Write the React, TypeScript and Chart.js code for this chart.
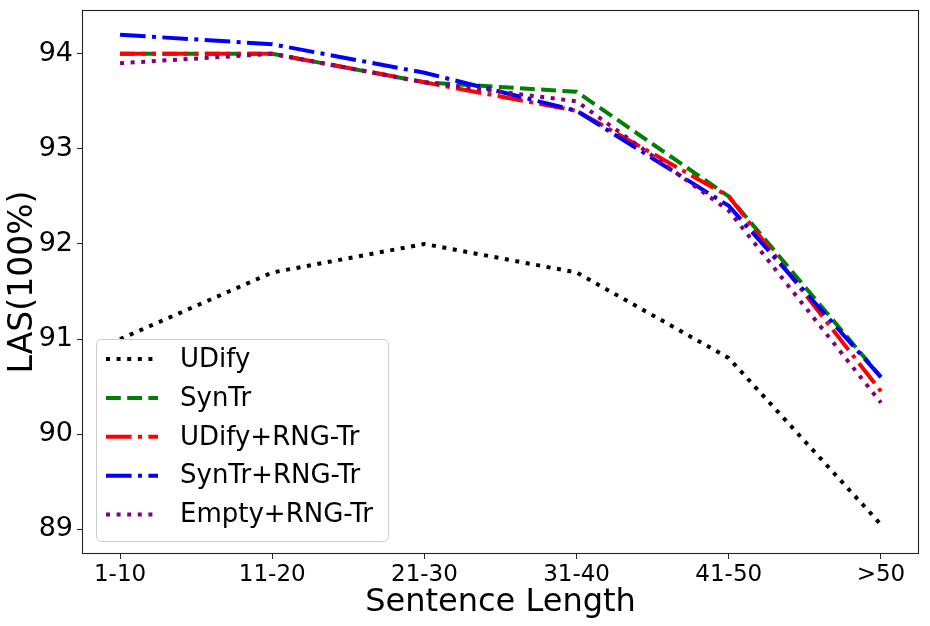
import { useEffect, useRef } from "react"
import { Chart, registerables } from "chart.js"

Chart.register(...registerables)

const categories = ["1-10", "11-20", "21-30", "31-40", "41-50", ">50"]
const yTicks = [89, 90, 91, 92, 93, 94]

const udify = [91.0, 91.7, 92.0, 91.7, 90.8, 89.05]
const syntr = [94.0, 94.0, 93.7, 93.6, 92.5, 90.6]
const udifyRng = [94.0, 94.0, 93.7, 93.4, 92.5, 90.45]
const syntrRng = [94.2, 94.1, 93.8, 93.4, 92.4, 90.6]
const emptyRng = [93.9, 94.0, 93.7, 93.5, 92.35, 90.33]

const FONT = "'DejaVu Sans', sans-serif"
const LW = 4
const dotted = [LW, LW * 1.65]
const dashed = [LW * 3.7, LW * 1.6]
const dashdot = [LW * 6.4, LW * 1.6, LW, LW * 1.6]

const toPoints = (vals: number[]) => vals.map((y, i) => ({ x: i, y }))

// box around the plot plus a matplotlib-like legend in the lower left
const framePlugin = {
  id: "frame",
  afterDraw(chart: any) {
    const { ctx, chartArea: ca } = chart
    ctx.save()
    ctx.strokeStyle = "#222"
    ctx.lineWidth = 1.1
    ctx.strokeRect(ca.left + 0.5, ca.top + 0.5, ca.right - ca.left - 1, ca.bottom - ca.top - 1)

    const bx = ca.left + 14
    const by = ca.bottom - 215
    const bw = 292
    const bh = 202
    ctx.beginPath()
    ctx.roundRect(bx + 0.5, by + 0.5, bw, bh, 5)
    ctx.fillStyle = "rgba(255,255,255,0.8)"
    ctx.fill()
    ctx.strokeStyle = "#cccccc"
    ctx.lineWidth = 1
    ctx.stroke()

    ctx.font = `26px ${FONT}`
    ctx.textBaseline = "middle"
    ctx.textAlign = "left"
    chart.data.datasets.forEach((ds: any, i: number) => {
      const y = by + 20 + i * 38.9
      ctx.beginPath()
      ctx.setLineDash(ds.borderDash)
      ctx.lineCap = "butt"
      ctx.strokeStyle = ds.borderColor
      ctx.lineWidth = ds.borderWidth
      ctx.moveTo(bx + 10, y)
      ctx.lineTo(bx + 62, y)
      ctx.stroke()
      ctx.setLineDash([])
      ctx.fillStyle = "#000"
      ctx.fillText(ds.label, bx + 84, y + 1)
    })
    ctx.restore()
  },
}

export default function App() {
  const chartRef = useRef<HTMLCanvasElement>(null)
  const chartInstance = useRef<Chart | null>(null)

  useEffect(() => {
    document.body.style.margin = "0"
    if (chartRef.current) {
      const ctx = chartRef.current.getContext("2d")

      if (ctx) {
        if (chartInstance.current) {
          chartInstance.current.destroy()
        }

        const line = (label: string, vals: number[], color: string, dash: number[], order: number) => ({
          label,
          data: toPoints(vals),
          borderColor: color,
          backgroundColor: color,
          borderWidth: LW,
          borderDash: dash,
          borderCapStyle: "butt" as const,
          pointRadius: 0,
          tension: 0,
          fill: false,
          order,
        })

        chartInstance.current = new Chart(ctx, {
          type: "line",
          data: {
            datasets: [
              line("UDify", udify, "#000000", dotted, 5),
              line("SynTr", syntr, "#008000", dashed, 4),
              line("UDify+RNG-Tr", udifyRng, "#ff0000", dashdot, 3),
              line("SynTr+RNG-Tr", syntrRng, "#0000ff", dashdot, 2),
              line("Empty+RNG-Tr", emptyRng, "#800080", dotted, 1),
            ],
          },
          options: {
            animation: false,
            responsive: true,
            maintainAspectRatio: false,
            layout: {
              padding: { top: 10, right: 11, left: 0, bottom: 0 },
            },
            scales: {
              x: {
                type: "linear",
                min: -0.25,
                max: 5.25,
                afterBuildTicks: (scale: any) => {
                  scale.ticks = categories.map((_, i) => ({ value: i }))
                },
                afterFit: (scale: any) => {
                  scale.height = 72
                  scale.paddingLeft = 0
                  scale.paddingRight = 0
                },
                ticks: {
                  callback: (v: any) => categories[v] ?? "",
                  color: "#000",
                  font: { family: FONT, size: 23 },
                  padding: 2,
                  maxRotation: 0,
                  autoSkip: false,
                },
                grid: {
                  display: true,
                  drawOnChartArea: false,
                  drawTicks: true,
                  tickLength: 5,
                  tickColor: "#222",
                },
                border: { display: false },
                title: {
                  display: true,
                  text: "Sentence Length",
                  color: "#000",
                  font: { family: FONT, size: 32 },
                  padding: { top: 0, bottom: 4 },
                },
              },
              y: {
                min: 88.74,
                max: 94.46,
                afterBuildTicks: (scale: any) => {
                  scale.ticks = yTicks.map((v) => ({ value: v }))
                },
                afterFit: (scale: any) => {
                  scale.width = 82
                  scale.paddingTop = 0
                  scale.paddingBottom = 0
                },
                ticks: {
                  color: "#000",
                  font: { family: FONT, size: 27 },
                  padding: 4,
                },
                grid: {
                  display: true,
                  drawOnChartArea: false,
                  drawTicks: true,
                  tickLength: 5,
                  tickColor: "#222",
                },
                border: { display: false },
                title: {
                  display: true,
                  text: "LAS(100%)",
                  color: "#000",
                  font: { family: FONT, size: 33 },
                  padding: { top: 4, bottom: 0 },
                },
              },
            },
            plugins: {
              legend: { display: false },
              tooltip: { enabled: false },
            },
          },
          plugins: [framePlugin],
        })
      }
    }

    return () => {
      if (chartInstance.current) {
        chartInstance.current.destroy()
        chartInstance.current = null
      }
    }
  }, [])

  return (
    <div style={{ width: "930px", height: "626px" }}>
      <canvas ref={chartRef}></canvas>
    </div>
  )
}
